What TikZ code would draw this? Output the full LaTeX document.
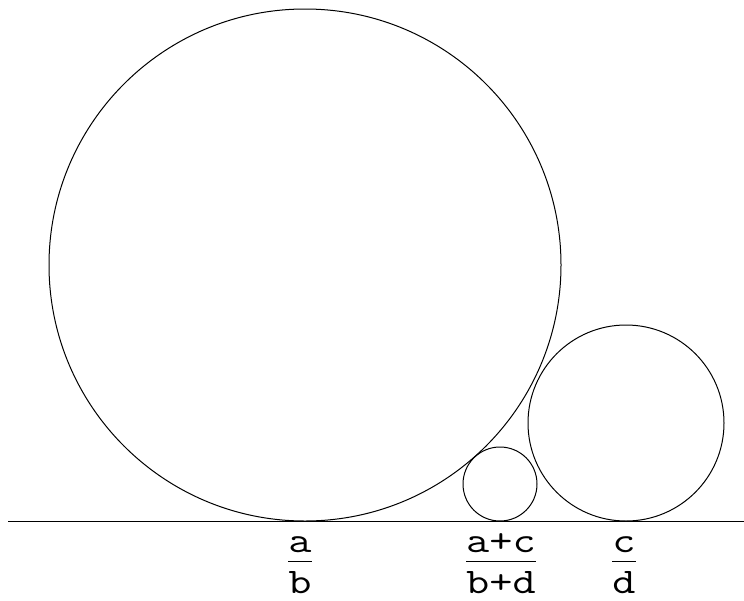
\documentclass[tikz,border=0pt]{standalone}
\usepackage{amsmath}
\usetikzlibrary{positioning}
\newcommand{\frc}[2]{\scalebox{1.25}[1]{$\dfrac{\mbox{\raisebox{-3pt}{#1}}}{\mbox{#2}}$}}

\begin{document}
\begin{tikzpicture}[x=0.5pt, y=-0.5pt, line width=0.5pt,
    ford/.style={draw},
    lbl/.style={font=\ttfamily\fontsize{18}{22}\selectfont, inner sep=0pt, anchor=base}]
    \useasboundingbox (0,0) rectangle (744,600);
    % base line
    \coordinate (L) at (8,521);
    \coordinate (R) at (744,521);
    \draw (L) -- (R);
    % the three circles
    \coordinate (Cab) at (305,265);
    \coordinate (Ccd) at (626,423);
    \coordinate (Cm) at (500,484);
    \draw[ford] (Cab) circle [radius=256];
    \draw[ford] (Ccd) circle [radius=98];
    \draw[ford] (Cm) circle [radius=37];
    % labels
    \node[lbl] (ab) at (300,570) {\frc{a}{b}};
    \node[lbl] (mid) at (501,570) {\frc{a+c}{b+d}};
    \node[lbl] (cd) at (624,570) {\frc{c}{d}};
\end{tikzpicture}
\end{document}
